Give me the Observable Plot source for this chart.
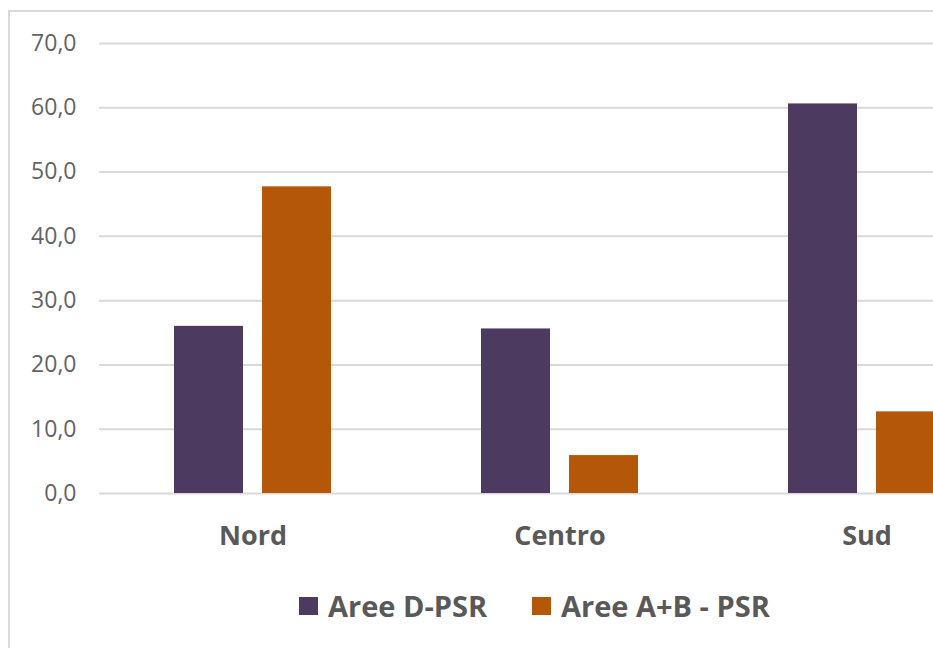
<!DOCTYPE html>
<html>
<head>
<meta charset="utf-8">
<script src="https://cdn.jsdelivr.net/npm/d3@7"></script>
<script src="https://cdn.jsdelivr.net/npm/@observablehq/plot@0.6"></script>
<style>
  html, body { margin: 0; padding: 0; background: #fff; }
  #wrap { position: relative; width: 933px; height: 648px; overflow: hidden; font-family: "Open Sans", sans-serif; }
  #frame { position: absolute; left: 8px; top: 10px; width: 2000px; height: 2000px; border-left: 2px solid #d9d9d9; border-top: 2px solid #d9d9d9; }
  #chart { position: absolute; left: 0; top: 0; }
  .lg { position: absolute; top: 586px; display: flex; align-items: center; color: #595959; font-size: 29px; font-weight: 700; white-space: nowrap; }
  .lg .sw { width: 19px; height: 18px; margin-right: 10px; }
</style>
</head>
<body>
<div id="wrap">
  <div id="frame"></div>
  <div id="chart"></div>
  <div id="legend"></div>
</div>
<script>
const categories = ["Nord", "Centro", "Sud"];
const seriesNames = ["Aree D-PSR", "Aree A+B - PSR"];
const valuesD = [26.0, 25.6, 60.6];
const valuesAB = [47.7, 5.9, 12.7];
const yTicks = [0, 10, 20, 30, 40, 50, 60, 70];
const colors = ["#4d3a60", "#b55708"];

const data = categories.flatMap((c, i) => [
  {cat: c, series: seriesNames[0], value: valuesD[i]},
  {cat: c, series: seriesNames[1], value: valuesAB[i]}
]);

const fmt = d => d.toFixed(1).replace(".", ",");

const chart = Plot.plot({
  width: 933,
  height: 570,
  marginLeft: 99,
  marginRight: 0,
  marginTop: 43,
  marginBottom: 77,
  style: {fontFamily: "'Open Sans', sans-serif", background: "transparent", overflow: "hidden"},
  fx: {domain: categories, range: [99, 1020], padding: 0, label: null},
  x: {domain: seriesNames, paddingInner: 0.216, paddingOuter: 0.852, axis: null},
  y: {domain: [0, 70], axis: null},
  color: {domain: seriesNames, range: colors},
  marks: [
    Plot.gridY(yTicks, {stroke: "#d9d9d9", strokeOpacity: 1, strokeWidth: 2}),
    Plot.axisY(yTicks, {tickSize: 0, tickPadding: 23, tickFormat: fmt, fontSize: 23, fill: "#636363", label: null}),
    Plot.barY(data, {fx: "cat", x: "series", y: "value", fill: "series"}),
    Plot.axisFx({anchor: "bottom", tickSize: 0, tickPadding: 32, fontSize: 27, fontWeight: 700, fill: "#595959", label: null})
  ]
});
document.getElementById("chart").appendChild(chart);

const legend = document.getElementById("legend");
const legendLeft = [299, 532];
seriesNames.forEach((s, i) => {
  const item = document.createElement("div");
  item.className = "lg";
  item.style.left = legendLeft[i] + "px";
  const sw = document.createElement("span");
  sw.className = "sw";
  sw.style.background = colors[i];
  const t = document.createElement("span");
  t.textContent = s;
  item.appendChild(sw);
  item.appendChild(t);
  legend.appendChild(item);
});
</script>
</body>
</html>
